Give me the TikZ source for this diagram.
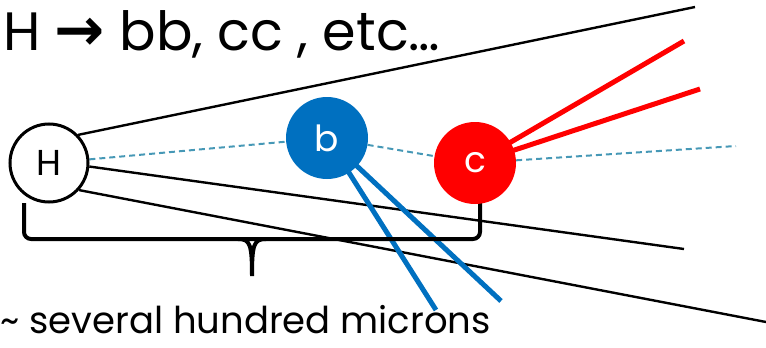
\documentclass[tikz,border=0pt]{standalone}
\usepackage{fontspec}
\setmainfont{Poppins}
\newfontfamily\arrowfont{DejaVu Sans}
\usetikzlibrary{backgrounds}
\definecolor{bblue}{RGB}{0,112,192}
\definecolor{dashteal}{RGB}{70,152,182}

\begin{document}
\begin{tikzpicture}[x=1pt,y=-1pt,
  vtx/.style={circle,inner sep=0pt,minimum size=82pt,font=\fontsize{36}{36}\selectfont},
  track/.style={line width=2.4pt,black},
  bjet/.style={line width=5pt,bblue},
  cjet/.style={line width=5pt,red},
  flight/.style={line width=2pt,dashteal,dash pattern=on 6pt off 4pt}]
  \useasboundingbox (0,0) rectangle (766,348);
  % vertices
  \node[vtx,draw=black,fill=white,line width=3pt,minimum size=78pt] (H) at (49,163) {H};
  \node[vtx,fill=bblue,text=white] (b) at (327,138) {b};
  \node[vtx,fill=red,text=white] (c) at (475,163) {c};
  % track ends
  \coordinate (t1) at (695,7);
  \coordinate (t2) at (684,249);
  \coordinate (t3) at (766,322);
  \coordinate (b1) at (436,310);
  \coordinate (b2) at (501,301);
  \coordinate (c1) at (684,41);
  \coordinate (c2) at (700,89);
  \coordinate (fl) at (736,146);
  \begin{scope}[on background layer]
    % prompt tracks from H
    \draw[track] (H.44) -- (t1);
    \draw[track] (H.-5) -- (t2);
    \draw[track] (H.-42) -- (t3);
    % displaced tracks
    \foreach \e in {b1,b2} { \draw[bjet] (b.center) -- (\e); }
    \foreach \e in {c1,c2} { \draw[cjet] (c.center) -- (\e); }
    % flight path: dashed
    \draw[flight] (H) -- (b) -- (c) -- (fl);
    % brace
    \draw[line width=4pt,rounded corners=7pt] (24,203) -- (24,239) -- (480,239) -- (480,200);
    \draw[line width=4pt,line cap=round] (238,239) .. controls (250,239) and (252,244) .. (252,276)
      .. controls (252,244) and (254,239) .. (266,239);
  \end{scope}
  % labels
  \node[anchor=base west,inner sep=0pt,font=\fontsize{54}{54}\selectfont] (title) at (3,50)
    {H {\arrowfont\bfseries\fontsize{60}{60}\selectfont →} bb, cc , etc…};
  \node[anchor=base west,inner sep=0pt,font=\fontsize{37}{37}\selectfont] (dist) at (0,333)
    {\textasciitilde{} several hundred microns};
\end{tikzpicture}
\end{document}
